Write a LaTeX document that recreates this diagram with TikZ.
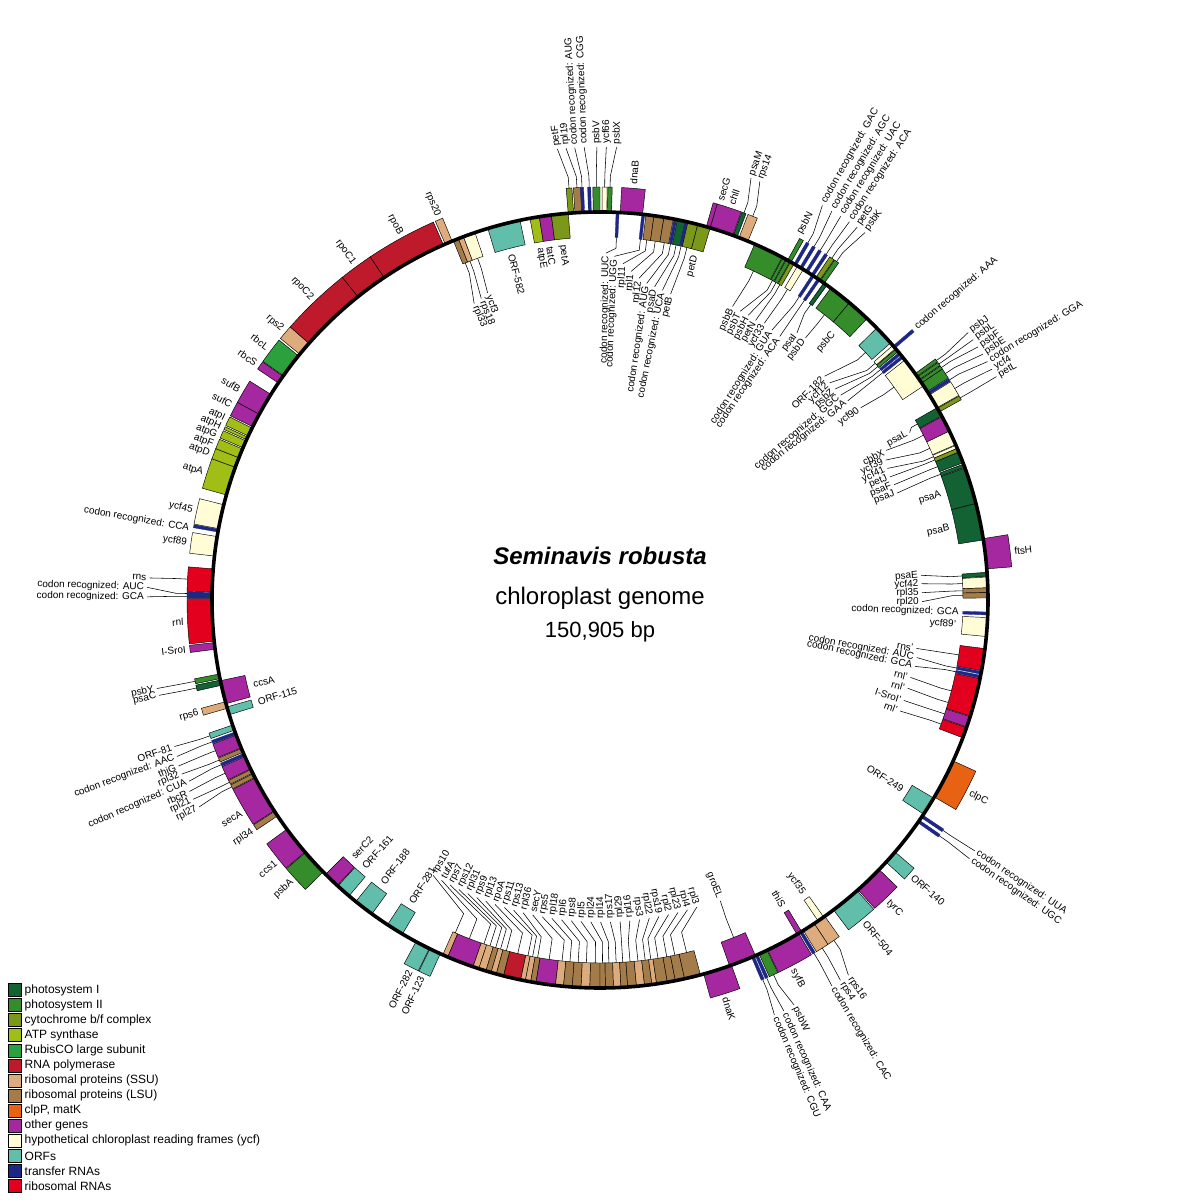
\documentclass[tikz,border=0pt]{standalone}
\usepackage{fontspec}
\setmainfont{Liberation Sans}
\definecolor{cPSI}{RGB}{18,98,52}
\definecolor{cPSII}{RGB}{52,140,42}
\definecolor{cCYT}{RGB}{124,152,26}
\definecolor{cATP}{RGB}{160,190,22}
\definecolor{cRUB}{RGB}{44,160,60}
\definecolor{cRNAP}{RGB}{190,26,44}
\definecolor{cSSU}{RGB}{222,172,124}
\definecolor{cLSU}{RGB}{164,124,74}
\definecolor{cCLP}{RGB}{232,98,20}
\definecolor{cOTH}{RGB}{166,40,160}
\definecolor{cYCF}{RGB}{255,252,214}
\definecolor{cORF}{RGB}{96,190,170}
\definecolor{cTRNA}{RGB}{30,40,132}
\definecolor{cRRNA}{RGB}{226,0,30}
\tikzset{
  gbox/.style={draw=black,line width=0.45pt},
  trnabar/.style={fill=cTRNA,draw=cTRNA,line width=0.3pt},
  ldr/.style={draw=black,line width=0.55pt},
  lbl/.style={font=\fontsize{10}{12}\selectfont,inner sep=1pt},
}
\newcount\labcnt
\newcommand{\GO}[3]{\filldraw[gbox,fill=#3] ({90-(#1)}:388) arc[start angle={90-(#1)},end angle={90-(#2)},radius=388pt] -- ({90-(#2)}:413) arc[start angle={90-(#2)},end angle={90-(#1)},radius=413pt] -- cycle;}
\newcommand{\GI}[3]{\filldraw[gbox,fill=#3] ({90-(#1)}:363) arc[start angle={90-(#1)},end angle={90-(#2)},radius=363pt] -- ({90-(#2)}:388) arc[start angle={90-(#2)},end angle={90-(#1)},radius=388pt] -- cycle;}
\newcommand{\TO}[1]{\filldraw[trnabar] ({90-(#1)+0.22}:388) -- ({90-(#1)+0.22}:413) -- ({90-(#1)-0.22}:413) -- ({90-(#1)-0.22}:388) -- cycle;}
\newcommand{\TI}[1]{\filldraw[trnabar] ({90-(#1)+0.22}:363) -- ({90-(#1)+0.22}:388) -- ({90-(#1)-0.22}:388) -- ({90-(#1)-0.22}:363) -- cycle;}
\newcommand{\LAB}[3]{%
  \global\advance\labcnt by 1
  \pgfmathsetmacro{\labth}{90-(#1)}%
  \pgfmathsetmacro{\labthb}{270-(#1)}%
  \pgfmathtruncatemacro{\labrh}{((((#1)>-5.7) && ((#1)<174.3)) || ((#1)>354.3)) ? 1 : 0}%
  \pgfmathtruncatemacro{\labout}{((#2)>388) ? 1 : 0}%
  \ifnum\labrh=1
    \ifnum\labout=1 \def\labanc{west}\else\def\labanc{east}\fi
    \node[lbl,anchor=\labanc,rotate=\labth] (lab\the\labcnt) at (\labth:#2) {#3};
  \else
    \ifnum\labout=1 \def\labanc{east}\else\def\labanc{west}\fi
    \node[lbl,anchor=\labanc,rotate=\labthb] (lab\the\labcnt) at (\labth:#2) {#3};
  \fi}
\newcommand{\LLO}[5]{\draw[ldr] ({90-(#1)}:413) -- ({90-(#1)}:#2) -- ({90-(#3)}:{#4-2});\LAB{#3}{#4}{#5}}
\newcommand{\LLI}[5]{\draw[ldr] ({90-(#1)}:363) -- ({90-(#1)}:#2) -- ({90-(#3)}:{#4+2});\LAB{#3}{#4}{#5}}
\newcommand{\LEG}[3]{\pgfmathsetmacro{\lgy}{1200-(990+15.08*#1)}%
  \filldraw[fill=#2,draw=black,line width=0.6pt] (8,{\lgy-6.5}) rectangle (21,{\lgy+6.5});
  \node[font=\fontsize{12}{14}\selectfont,anchor=west,inner sep=0pt] (leg#1) at (24.5,\lgy) {#3};}
\begin{document}
\begin{tikzpicture}[x=1pt,y=1pt]
\useasboundingbox (0,0) rectangle (1200,1200);
\fill[white] (0,0) rectangle (1200,1200);
\begin{scope}[shift={(600,600)}]
% ---------------- outer genes
\GO{355.3}{356.1}{cCYT}\GO{356.3}{357.3}{cLSU}\TO{357.5}\TO{358.5}
\GO{359.0}{360.0}{cPSII}\GO{0.3}{1.0}{cYCF}\GO{1.1}{1.7}{cPSII}
\GO{3.0}{6.3}{cOTH}
\GO{15.9}{16.5}{cOTH}\GO{16.5}{20.0}{cOTH}\GO{20.1}{20.7}{cPSI}\GO{21.0}{22.4}{cSSU}
\GO{28.9}{29.5}{cPSII}\TO{30.2}\TO{31.2}\TO{32.2}\TO{33.2}
\GO{33.8}{34.5}{cCYT}\GO{34.6}{35.3}{cPSII}
\TO{49.3}
\GO{54.3}{54.8}{cPSII}\GO{54.9}{55.4}{cPSII}\GO{55.5}{56.0}{cPSII}\GO{56.0}{57.5}{cPSII}
\TO{57.8}\GO{58.1}{60.3}{cYCF}\GO{60.4}{61.0}{cCYT}
\GO{80.9}{85.4}{cOTH}
\GO{114.5}{120.5}{cCLP}
\TO{123.9}\TO{124.8}
\GO{130.5}{132.5}{cORF}\GO{134.0}{138.3}{cOTH}\GO{138.5}{143.0}{cORF}
\GO{144.6}{146.5}{cSSU}\GO{146.5}{148.4}{cSSU}\TO{148.8}
\GO{149.2}{154.4}{cOTH}\GO{154.5}{155.8}{cPSII}\TO{156.2}\TO{156.8}
\GO{160.2}{164.5}{cOTH}
\GO{204.3}{206.0}{cORF}\GO{206.1}{208.3}{cORF}
\GO{225.5}{229.4}{cPSII}\GO{229.5}{233.8}{cOTH}
\GO{236.2}{237.0}{cLSU}\GO{237.1}{242.7}{cOTH}
\GO{242.8}{243.4}{cLSU}\GO{243.5}{244.1}{cLSU}\GO{244.2}{246.2}{cOTH}\TO{246.5}
\GO{246.9}{247.5}{cLSU}\GO{247.6}{249.6}{cOTH}\TO{249.9}\GO{250.4}{251.2}{cORF}
\GO{253.8}{254.8}{cSSU}
\GO{257.3}{258.1}{cPSI}\GO{258.3}{259.0}{cPSII}
\GO{262.7}{263.7}{cOTH}
\GO{263.9}{270.2}{cRRNA}\TO{270.5}\TO{270.9}\GO{271.2}{274.6}{cRRNA}
\GO{276.5}{279.4}{cYCF}\TO{280.3}\GO{280.6}{284.2}{cYCF}
\GO{285.7}{290.0}{cATP}\GO{290.0}{291.5}{cATP}\GO{291.5}{292.9}{cATP}\GO{293.1}{294.2}{cATP}\GO{294.4}{294.8}{cATP}\GO{295.0}{296.3}{cATP}
\GO{296.5}{298.6}{cOTH}\GO{298.6}{302.0}{cOTH}
\GO{304.0}{305.2}{cOTH}\GO{305.3}{309.0}{cRUB}\GO{309.3}{311.4}{cSSU}
\GO{311.4}{321.4}{cRNAP}\GO{321.4}{326.2}{cRNAP}\GO{326.2}{336.2}{cRNAP}
\GO{336.5}{337.6}{cSSU}
% ---------------- inner genes
\GI{337.8}{338.6}{cLSU}\GI{338.6}{339.4}{cSSU}\GI{339.4}{341.2}{cYCF}
\GI{343.2}{348.1}{cORF}
\GI{349.6}{351.0}{cATP}\GI{351.0}{352.8}{cOTH}\GI{352.8}{355.3}{cCYT}
\TI{2.6}\TI{6.4}
\GI{6.8}{8.0}{cLSU}\GI{8.0}{9.5}{cLSU}\GI{9.5}{10.9}{cLSU}\TI{11.2}
\GI{11.5}{12.7}{cPSI}\TI{12.9}\GI{13.1}{14.6}{cCYT}\GI{14.6}{16.5}{cCYT}
\GI{23.5}{28.0}{cPSII}\GI{28.1}{28.6}{cPSII}\GI{28.7}{29.3}{cPSII}\GI{29.4}{30.0}{cCYT}\GI{30.6}{31.6}{cYCF}
\TI{33.3}\TI{34.3}\GI{35.2}{35.8}{cPSI}
\GI{36.5}{40.0}{cPSII}\GI{40.0}{43.5}{cPSII}
\GI{45.5}{48.5}{cORF}
\GI{49.0}{49.6}{cYCF}\GI{49.7}{50.2}{cPSII}\TI{50.6}\TI{51.2}\GI{51.8}{56.5}{cYCF}
\GI{60.3}{61.7}{cPSI}\GI{61.8}{64.2}{cOTH}\GI{64.2}{66.4}{cYCF}\GI{66.5}{67.0}{cYCF}\GI{67.0}{67.6}{cCYT}\GI{67.6}{69.3}{cPSI}\GI{69.5}{70.0}{cPSI}
\GI{70.1}{75.6}{cPSI}\GI{75.6}{81.1}{cPSI}
\GI{85.9}{86.5}{cPSI}\GI{86.6}{88.2}{cYCF}\GI{88.2}{88.9}{cLSU}\GI{88.9}{89.7}{cLSU}
\TI{92.0}\GI{92.6}{95.4}{cYCF}
\GI{97.2}{100.5}{cRRNA}\TI{100.8}\TI{101.4}\GI{101.7}{107.4}{cRRNA}\GI{107.5}{109.1}{cOTH}\GI{109.2}{110.8}{cRRNA}
\GI{120.7}{123.5}{cORF}
\GI{144.8}{145.8}{cYCF}\GI{148.7}{149.5}{cOTH}
\GI{156.4}{160.5}{cOTH}
\GI{210.6}{213.2}{cORF}\GI{216.0}{219.0}{cORF}\GI{220.3}{222.5}{cORF}\GI{222.6}{225.0}{cOTH}
\GI{252.8}{254.0}{cORF}\GI{254.5}{258.0}{cOTH}
% bottom ribosomal cluster (inner) with leaders
\foreach \ga/\gb/\gc/\gn [count=\gi from 0] in {203.1/203.9/cSSU/rps10, 199.1/203.1/cOTH/tufA, 198.2/199.1/cSSU/rps7, 197.1/198.2/cSSU/rps12, 196.3/197.1/cLSU/rpl31, 195.5/196.3/cSSU/rps9, 194.4/195.5/cLSU/rpl13, 191.8/194.4/cRNAP/rpoA, 191.1/191.8/cSSU/rps11, 190.3/191.1/cSSU/rps13, 189.5/190.3/cLSU/rpl36, 186.6/189.5/cOTH/secY, 185.4/186.6/cSSU/rps5, 184.1/185.4/cLSU/rpl18, 182.8/184.1/cLSU/rpl6, 181.5/182.8/cSSU/rps8, 180.0/181.5/cLSU/rpl5, 179.2/180.0/cLSU/rpl24, 178.0/179.2/cLSU/rpl14, 176.9/178.0/cSSU/rps17, 175.9/176.9/cLSU/rpl29, 174.6/175.9/cLSU/rpl16, 173.4/174.6/cSSU/rps3, 172.3/173.4/cLSU/rpl22, 171.6/172.3/cSSU/rps19, 170.0/171.6/cLSU/rpl2, 168.8/170.0/cLSU/rpl23, 167.4/168.8/cLSU/rpl4, 165.0/167.4/cLSU/rpl3}{
  \GI{\ga}{\gb}{\gc}
  \pgfmathsetmacro{\myal}{211.2-1.739*\gi}
  \LLI{(\ga+\gb)/2}{342}{\myal}{320}{\gn}
}
% ---------------- main circle
\draw[line width=3.6pt] (0,0) circle[radius=388pt];
% ---------------- outer labels, adjacent
\LAB{4.6}{416}{dnaB}\LAB{16.8}{416}{secG}\LAB{18.4}{416}{chlI}\LAB{28.6}{416}{psbN}
\LAB{49.3}{416}{codon recognized: AAA}\LAB{83.3}{416}{ftsH}\LAB{117.6}{416}{clpC}
\LAB{131.5}{416}{ORF-140}\LAB{136.3}{416}{tyrC}\LAB{140.6}{416}{ORF-504}
\LAB{152.4}{416}{syfB}\LAB{162.5}{416}{dnaK}
\LAB{205.3}{416}{ORF-123}\LAB{207.1}{416}{ORF-282}
\LAB{227.6}{416}{psbA}\LAB{231.0}{416}{ccs1}\LAB{236.4}{416}{rpl34}\LAB{239.3}{416}{secA}
\LAB{254.3}{416}{rps6}\LAB{263.2}{416}{I-SroI}\LAB{267.0}{416}{rnl}
\LAB{277.9}{416}{ycf89}\LAB{279.9}{416}{codon recognized: CCA}\LAB{282.4}{416}{ycf45}
\LAB{287.8}{416}{atpA}\LAB{290.5}{416}{atpD}\LAB{291.9}{416}{atpF}\LAB{293.2}{416}{atpG}\LAB{294.5}{416}{atpH}\LAB{295.8}{416}{atpI}
\LAB{297.9}{416}{sufC}\LAB{300.3}{416}{sufB}
\LAB{304.5}{416}{rbcS}\LAB{307.2}{416}{rbcL}\LAB{310.4}{416}{rps2}
\LAB{316.3}{416}{rpoC2}\LAB{323.8}{416}{rpoC1}\LAB{331.4}{416}{rpoB}\LAB{337.1}{416}{rps20}
% ---------------- inner labels, adjacent
\LAB{15.5}{358}{petD}\LAB{41.2}{356}{psbC}\LAB{72.8}{358}{psaA}\LAB{78.4}{358}{psaB}
\LAB{92.0}{360}{codon recognized: GCA}\LAB{94.0}{358}{ycf89'}
\LAB{122.0}{358}{ORF-249}\LAB{145.3}{358}{ycf35}\LAB{149.1}{358}{thiS}
\LAB{211.9}{358}{ORF-281}\LAB{217.5}{358}{ORF-188}\LAB{221.4}{358}{ORF-161}\LAB{223.8}{358}{serC2}
\LAB{253.4}{358}{ORF-115}\LAB{256.3}{358}{ccsA}
\LAB{345.6}{358}{ORF-582}\LAB{350.3}{358}{atpE}\LAB{351.9}{358}{tatC}\LAB{354.0}{358}{petA}
% ---------------- outer labels with leaders
\LLO{355.7}{424}{354.6}{455}{petF}
\LLO{356.8}{424}{355.7}{455}{rpl19}
\LLO{357.5}{424}{356.8}{455}{codon recognized: AUG}
\LLO{358.5}{424}{358.0}{455}{codon recognized: CGG}
\LLO{359.5}{424}{359.6}{455}{psbV}
\LLO{0.65}{424}{0.8}{455}{ycf66}
\LLO{1.4}{424}{2.1}{455}{psbX}
\LLO{20.4}{424}{19.7}{450}{psaM}
\LLO{21.7}{424}{20.9}{450}{rps14}
\LLO{30.2}{424}{29.4}{455}{codon recognized: GAC}
\LLO{31.2}{424}{30.8}{455}{codon recognized: AGC}
\LLO{32.2}{424}{32.1}{455}{codon recognized: UAC}
\LLO{33.2}{424}{33.4}{455}{codon recognized: ACA}
\LLO{34.15}{424}{34.6}{455}{petG}
\LLO{34.95}{424}{35.8}{455}{psbK}
\LLO{54.55}{424}{54.0}{457}{psbJ}
\LLO{55.15}{424}{55.1}{457}{psbL}
\LLO{55.75}{424}{56.2}{457}{psbF}
\LLO{56.75}{424}{57.3}{457}{psbE}
\LLO{57.8}{424}{58.4}{457}{codon recognized: GGA}
\LLO{59.2}{424}{59.5}{457}{ycf4}
\LLO{60.7}{424}{60.6}{457}{petL}
\LLO{123.9}{424}{123.8}{453}{codon recognized: UUA}
\LLO{124.8}{424}{125.0}{453}{codon recognized: UGC}
\LLO{145.5}{424}{146.5}{452}{rps16}
\LLO{147.45}{424}{147.7}{452}{rps4}
\LLO{148.8}{424}{149.0}{452}{codon recognized: CAC}
\LLO{155.15}{424}{154.4}{451}{psbW}
\LLO{156.2}{424}{155.9}{452}{codon recognized: CAA}
\LLO{156.8}{424}{157.2}{452}{codon recognized: CGU}
\LLO{250.8}{424}{251.0}{452}{ORF-81}
\LLO{249.9}{424}{249.7}{453}{codon recognized: AAC}
\LLO{248.6}{424}{248.5}{455}{thiG}
\LLO{247.2}{424}{247.4}{455}{rpl32}
\LLO{246.5}{424}{246.2}{451}{codon recognized: CUA}
\LLO{245.2}{424}{245.0}{455}{rbcR}
\LLO{243.8}{424}{243.9}{455}{rpl21}
\LLO{243.1}{424}{242.7}{453}{rpl27}
\LLO{258.65}{424}{258.7}{454}{psbY}
\LLO{257.7}{424}{257.8}{453}{psaC}
\LLO{272.9}{424}{272.8}{453}{rns}
\LLO{270.9}{424}{271.6}{455}{codon recognized: AUC}
\LLO{270.5}{424}{270.4}{455}{codon recognized: GCA}
% ---------------- inner labels with leaders
\LLI{2.6}{352}{1.0}{345}{codon recognized: UUC}
\LLI{6.4}{352}{2.4}{342}{codon recognized: UGG}
\LLI{7.4}{352}{3.9}{335}{rpl11}
\LLI{8.75}{352}{5.4}{328}{rpl1}
\LLI{10.2}{352}{6.9}{322}{rpl12}
\LLI{11.2}{352}{8.4}{318}{codon recognized: AUG}
\LLI{12.1}{352}{9.9}{316}{psaD}
\LLI{12.9}{352}{11.4}{314}{codon recognized: UCA}
\LLI{13.85}{352}{13.0}{312}{petB}
\LLI{25.0}{352}{24.3}{320}{psbB}
\LLI{28.35}{352}{25.9}{319}{psbT}
\LLI{29.0}{352}{27.5}{319}{psbH}
\LLI{29.7}{352}{29.1}{318}{petN}
\LLI{31.1}{352}{30.7}{320}{ycf33}
\LLI{33.3}{352}{32.5}{318}{codon recognized: GUA}
\LLI{34.3}{352}{34.3}{317}{codon recognized: ACA}
\LLI{35.5}{352}{36.4}{330}{psaI}
\LLI{38.2}{352}{38.1}{331}{psbD}
\LLI{47.0}{352}{45.1}{315}{ORF-182}
\LLI{49.3}{352}{46.6}{314}{ycf12}
\LLI{49.95}{352}{48.1}{314}{psbZ}
\LLI{50.6}{352}{49.6}{314}{codon recognized: GGC}
\LLI{51.2}{352}{51.2}{316}{codon recognized: GAA}
\LLI{54.1}{350}{53.6}{322}{ycf90}
\LLI{61.0}{356}{61.6}{350}{psaL}
\LLI{63.0}{352}{62.4}{321}{cbbX}
\LLI{65.3}{352}{63.9}{316}{ycf39}
\LLI{66.75}{352}{65.4}{314}{ycf41}
\LLI{67.3}{352}{67.0}{313}{petJ}
\LLI{68.45}{352}{68.6}{314}{psaF}
\LLI{69.75}{352}{70.2}{314}{psaJ}
\LLI{86.2}{352}{85.6}{320}{psaE}
\LLI{87.4}{352}{87.1}{320}{ycf42}
\LLI{88.55}{352}{88.7}{320}{rpl35}
\LLI{89.3}{352}{90.3}{320}{rpl20}
\LLI{98.7}{352}{98.7}{318}{rns'}
\LLI{100.8}{352}{100.3}{320}{codon recognized: AUC}
\LLI{101.4}{352}{101.9}{320}{codon recognized: GCA}
\LLI{104.5}{352}{104.0}{318}{rnl'}
\LLI{106.4}{352}{106.0}{318}{rnl'}
\LLI{108.3}{352}{108.3}{318}{I-SroI'}
\LLI{110.0}{352}{110.3}{318}{rnl'}
\LLI{158.4}{342}{158.2}{322}{groEL}
\LLI{338.2}{352}{337.0}{320}{rpl33}
\LLI{339.0}{352}{338.5}{322}{rps18}
\LLI{340.3}{352}{339.9}{325}{ycf3}
% ---------------- centre
\node[font=\fontsize{24}{28}\selectfont\bfseries\itshape,anchor=base] (title) at (0,35) {Seminavis robusta};
\node[font=\fontsize{24}{28}\selectfont,anchor=base] (sub) at (0,-5) {chloroplast genome};
\node[font=\fontsize{22}{26}\selectfont,anchor=base] (size) at (0,-38) {150,905 bp};
\end{scope}
% ---------------- legend
\LEG{0}{cPSI}{photosystem I}
\LEG{1}{cPSII}{photosystem II}
\LEG{2}{cCYT}{cytochrome b/f complex}
\LEG{3}{cATP}{ATP synthase}
\LEG{4}{cRUB}{RubisCO large subunit}
\LEG{5}{cRNAP}{RNA polymerase}
\LEG{6}{cSSU}{ribosomal proteins (SSU)}
\LEG{7}{cLSU}{ribosomal proteins (LSU)}
\LEG{8}{cCLP}{clpP, matK}
\LEG{9}{cOTH}{other genes}
\LEG{10}{cYCF}{hypothetical chloroplast reading frames (ycf)}
\LEG{11}{cORF}{ORFs}
\LEG{12}{cTRNA}{transfer RNAs}
\LEG{13}{cRRNA}{ribosomal RNAs}
\end{tikzpicture}
\end{document}
